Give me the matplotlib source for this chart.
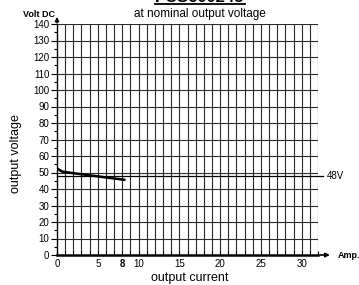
import matplotlib.pyplot as plt

plt.rcParams['font.family'] = ['Liberation Sans', 'DejaVu Sans']

# curve
current = [0, 0.6, 2, 4, 6, 8.4]
voltage = [52.5, 50.6, 49.6, 48.3, 47.0, 45.5]
nominal = 48

x_ticks = [0, 5, 8, 10, 15, 20, 25, 30]
y_ticks = list(range(0, 150, 10))

fig = plt.figure(figsize=(3.59, 2.85), dpi=100)
ax = fig.add_axes([57/359, 30/285, 261/359, 231/285])
ax.set_xlim(0, 32)
ax.set_ylim(0, 140)

# grid
for x in range(1, 33):
    ax.axvline(x, color='#2a2a2a', lw=0.8, zorder=1)
for y in range(10, 141, 10):
    ax.axhline(y, color='#2a2a2a', lw=0.8, zorder=1)

# nominal line
ax.plot([0, 32.6], [nominal, nominal], color='black', lw=0.9, clip_on=False, zorder=2)
ax.text(33.1, nominal, '48V', fontsize=7, va='center', ha='left')

ax.plot(current, voltage, color='black', lw=1.8, zorder=3, solid_capstyle='butt')

for s in ['top', 'right']:
    ax.spines[s].set_visible(False)
ax.spines['left'].set_linewidth(1.0)
ax.spines['bottom'].set_linewidth(1.8)

# axis arrows
ax.annotate('', xy=(0, 146), xytext=(0, 139), annotation_clip=False,
            arrowprops=dict(arrowstyle='-|>', color='black', lw=1.0, mutation_scale=6))
ax.annotate('', xy=(33.8, 0), xytext=(31.9, 0), annotation_clip=False,
            arrowprops=dict(arrowstyle='-|>', color='black', lw=1.2, mutation_scale=6))
ax.text(34.4, 0, 'Amp.', fontsize=6.5, fontweight='bold', va='center', ha='left')
ax.text(-0.3, 146, 'Volt DC', fontsize=6.5, fontweight='bold', va='center', ha='right')

ax.set_yticks(y_ticks)
ax.set_yticks(range(5, 140, 10), minor=True)
ax.set_xticks(x_ticks)
ax.set_xticks(range(0, 33), minor=True)
ax.tick_params(axis='y', labelsize=7, length=4, width=0.8, pad=1.5)
ax.tick_params(axis='y', which='minor', length=2, width=0.8)
ax.tick_params(axis='x', labelsize=7, length=3, width=0.8, direction='in', pad=3)
ax.tick_params(axis='x', which='minor', length=3, width=0.8, direction='in')
for lbl in ax.get_xticklabels():
    if lbl.get_text() == '8':
        lbl.set_fontweight('bold')

ax.set_ylabel('output voltage', fontsize=9)
ax.yaxis.set_label_coords(-0.135, 0.44)
ax.set_xlabel('output current', fontsize=9)
ax.xaxis.set_label_coords(0.51, -0.075)

fig.text(200/359, 1 + 3/285, 'PCS600248', fontsize=12, fontweight='bold',
         ha='center', va='center')
fig.add_artist(plt.Line2D([155/359, 245/359], [281/285, 281/285], color='black', lw=1.3))
fig.text(200/359, 271/285, 'at nominal output voltage', fontsize=8.5, ha='center', va='center')

fig.savefig('out.png', dpi=100)
